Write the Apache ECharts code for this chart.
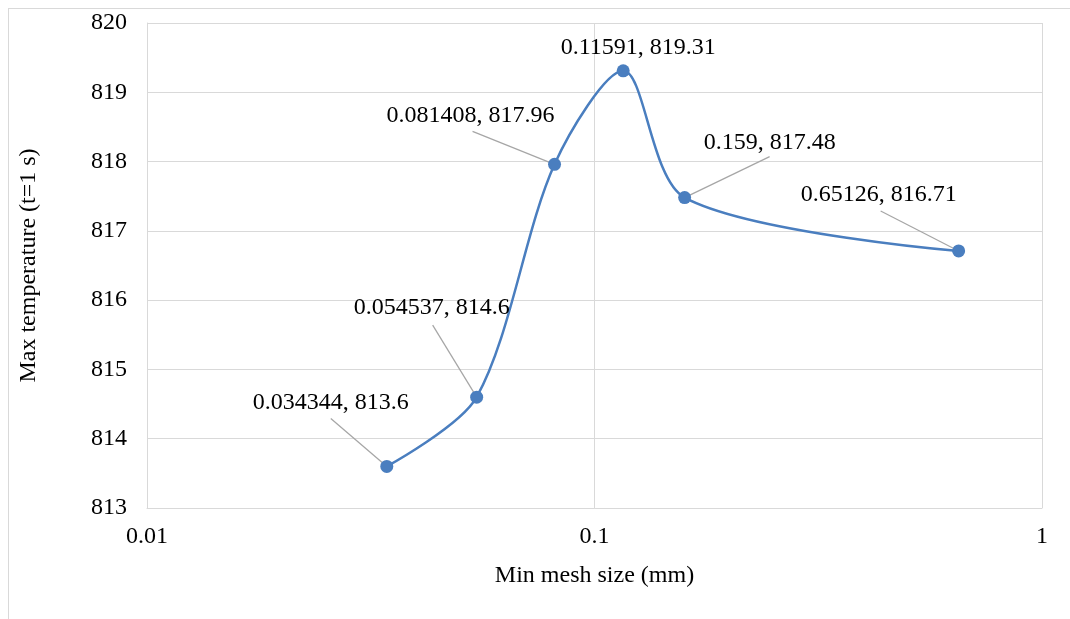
<!DOCTYPE html>
<html>
<head>
<meta charset="utf-8">
<script src="https://cdn.jsdelivr.net/npm/echarts@6/dist/echarts.min.js"></script>
<style>
  html, body { margin: 0; padding: 0; background: #fff; }
  #frame {
    position: absolute; left: 8px; top: 8px; width: 1100px; height: 700px;
    border-left: 1px solid #d9d9d9; border-top: 1px solid #d9d9d9;
  }
  #chart { position: absolute; left: 0; top: 0; width: 1070px; height: 619px; }
</style>
</head>
<body>
<div id="frame"></div>
<div id="chart"></div>
<script>
// Mesh convergence study: minimum mesh size vs. maximum temperature at t = 1 s
const meshSize = [0.034344, 0.054537, 0.081408, 0.11591, 0.159, 0.65126];
const maxTemp = [813.6, 814.6, 817.96, 819.31, 817.48, 816.71];
const xTicks = [0.01, 0.1, 1];
const yTicks = [813, 814, 815, 816, 817, 818, 819, 820];

// Label placement relative to each marker (pixels)
const labelShift = [[-56, -64], [-45, -89], [-84, -49], [15, -23], [85, -55], [-80, -56]];
// Leader line start relative to each marker (pixels); null = no leader
const leaderStart = [[-56, -48], [-44, -72], [-82, -33], null, [85, -41], [-78, -40]];

const FONT = "'Liberation Serif', 'Times New Roman', serif";
const BLUE = '#4a7ebf';
const points = meshSize.map((x, i) => [x, maxTemp[i]]);

const chart = echarts.init(document.getElementById('chart'), null, { renderer: 'canvas' });

chart.setOption({
  animation: false,
  grid: { left: 147, right: 28, top: 23, bottom: 111, containLabel: false },
  xAxis: {
    type: 'log',
    logBase: 10,
    min: xTicks[0],
    max: xTicks[xTicks.length - 1],
    name: 'Min mesh size (mm)',
    nameLocation: 'middle',
    nameGap: 56,
    nameTextStyle: { fontFamily: FONT, fontSize: 24, color: '#000' },
    axisLine: { show: true, lineStyle: { color: '#d9d9d9', width: 1 } },
    axisTick: { show: false },
    axisLabel: {
      fontFamily: FONT, fontSize: 24, color: '#000', margin: 17,
      formatter: v => String(Number(v.toPrecision(6)))
    },
    splitLine: { show: true, lineStyle: { color: '#d9d9d9', width: 1 } }
  },
  yAxis: {
    type: 'value',
    min: yTicks[0],
    max: yTicks[yTicks.length - 1],
    interval: 1,
    name: 'Max temperature (t=1 s)',
    nameLocation: 'middle',
    nameGap: 106,
    nameRotate: 90,
    nameTextStyle: { fontFamily: FONT, fontSize: 24, color: '#000' },
    axisLine: { show: true, lineStyle: { color: '#d9d9d9', width: 1 } },
    axisTick: { show: false },
    axisLabel: { fontFamily: FONT, fontSize: 24, color: '#000', margin: 20 },
    splitLine: { show: true, lineStyle: { color: '#d9d9d9', width: 1 } }
  },
  series: [
    {
      // leader lines from each data label to its marker
      type: 'custom',
      data: points,
      z: 2,
      silent: true,
      renderItem: (params, api) => {
        const o = leaderStart[params.dataIndex];
        if (!o) return null;
        const p = api.coord([api.value(0), api.value(1)]);
        return {
          type: 'line',
          shape: { x1: p[0] + o[0], y1: p[1] + o[1], x2: p[0], y2: p[1] },
          style: { stroke: '#a6a6a6', lineWidth: 1.25 }
        };
      }
    },
    {
      type: 'line',
      smooth: 0.3,
      symbol: 'circle',
      symbolSize: 13,
      lineStyle: { color: BLUE, width: 2.5 },
      itemStyle: { color: BLUE },
      data: points,
      label: {
        show: true,
        position: 'inside',
        fontFamily: FONT,
        fontSize: 24,
        color: '#000',
        formatter: p => p.value[0] + ', ' + p.value[1]
      },
      labelLayout: p => ({ dx: labelShift[p.dataIndex][0], dy: labelShift[p.dataIndex][1] }),
      z: 3
    }
  ]
});
</script>
</body>
</html>
